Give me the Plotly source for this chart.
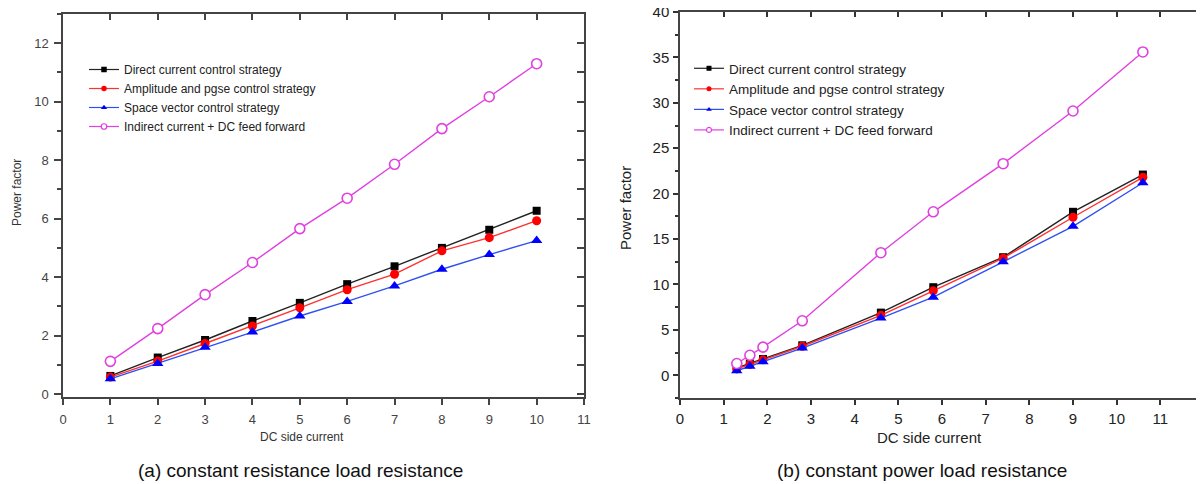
import plotly.graph_objects as go

# (a) constant resistance load
x_a = [1, 2, 3, 4, 5, 6, 7, 8, 9, 10]
a_direct = [0.62, 1.25, 1.85, 2.5, 3.12, 3.76, 4.37, 5.0, 5.62, 6.27]
a_amplitude = [0.58, 1.13, 1.73, 2.33, 2.95, 3.57, 4.1, 4.9, 5.35, 5.93]
a_space = [0.52, 1.05, 1.6, 2.12, 2.67, 3.17, 3.7, 4.27, 4.77, 5.25]
a_indirect = [1.12, 2.24, 3.4, 4.5, 5.66, 6.7, 7.86, 9.08, 10.17, 11.3]

# (b) constant power load
x_b = [1.3, 1.6, 1.9, 2.8, 4.6, 5.8, 7.4, 9.0, 10.6]
b_direct = [0.8, 1.3, 1.8, 3.3, 6.9, 9.7, 13.0, 18.0, 22.1]
b_amplitude = [0.7, 1.2, 1.7, 3.2, 6.6, 9.3, 12.9, 17.4, 21.8]
b_space = [0.5, 1.0, 1.5, 3.0, 6.3, 8.6, 12.5, 16.4, 21.2]
b_indirect = [1.3, 2.2, 3.1, 6.0, 13.5, 18.0, 23.3, 29.1, 35.6]

names = [
    "Direct current control strategy",
    "Amplitude and pgse control strategy",
    "Space vector control strategy",
    "Indirect current + DC feed forward",
]
line_colors = ["#222222", "#ff3030", "#3050f0", "#e040e0"]
marker_colors = ["#000000", "#ff0000", "#0000ff", "#ffffff"]
symbols = ["square", "circle", "triangle-up", "circle"]
sizes = [8, 9, 10, 10]

FONT = "Liberation Sans, Arial, sans-serif"
# the page body has an 8px margin, so the figure is 8px smaller and positions are shifted
OFF = 8
W, H = 1204 - OFF, 484 - OFF

fig = go.Figure()

panels = [
    ("x", "y", "legend", x_a, [a_direct, a_amplitude, a_space, a_indirect], 5.5),
    ("x2", "y2", "legend2", x_b, [b_direct, b_amplitude, b_space, b_indirect], 5),
]
for xa, ya, leg, xs, series, leg_size in panels:
    for i, ys in enumerate(series):
        mline = dict(width=1.6, color=line_colors[i]) if i == 3 else dict(width=0)
        fig.add_trace(
            go.Scatter(
                x=xs, y=ys, mode="lines+markers", xaxis=xa, yaxis=ya,
                line=dict(color=line_colors[i], width=1.4),
                marker=dict(symbol=symbols[i], size=sizes[i], color=marker_colors[i], line=mline),
                showlegend=False,
            )
        )
    # small-marker entries only for the legend
    for i in range(4):
        mline = dict(width=1.2, color=line_colors[i]) if i == 3 else dict(width=0)
        fig.add_trace(
            go.Scatter(
                x=[None], y=[None], mode="lines+markers", xaxis=xa, yaxis=ya,
                name=names[i], legend=leg,
                line=dict(color=line_colors[i], width=1.2),
                marker=dict(symbol=symbols[i], size=leg_size, color=marker_colors[i], line=mline),
            )
        )

# empty subplots sharing the panels' domains, only used for the inward top / right ticks
for xa, ya in [("x3", "y"), ("x", "y3"), ("x4", "y2"), ("x2", "y4")]:
    fig.add_trace(go.Scatter(x=[1], y=[1], xaxis=xa, yaxis=ya, mode="markers",
                             marker=dict(opacity=0), showlegend=False, hoverinfo="skip"))


def px_x(p):
    return (p - OFF) / W


def px_y(p):
    return (H - (p - OFF)) / H


axis_common = dict(showgrid=False, zeroline=False, showline=True, linecolor="#444444", linewidth=1.5,
                   automargin=False, tickwidth=1.5)
tick_only = dict(showgrid=False, zeroline=False, showline=False, automargin=False, showticklabels=False,
                 fixedrange=True, tickwidth=1.5)

dom_xa = [px_x(63), px_x(584)]
dom_ya = [px_y(397), px_y(14)]
dom_xb = [px_x(680), 1]
dom_yb = [px_y(398), px_y(12)]

fig.update_layout(
    width=W, height=H,
    margin=dict(l=0, r=0, t=0, b=0),
    paper_bgcolor="white", plot_bgcolor="rgba(0,0,0,0)",
    font=dict(family=FONT, color="#333333"),
    # left panel
    xaxis=dict(axis_common, domain=dom_xa, range=[0, 11], anchor="y", mirror=True,
               tickmode="linear", tick0=0, dtick=1, ticks="outside", ticklen=6, tickcolor="#444444",
               tickfont=dict(size=13, color="#444444"), ticklabelstandoff=4),
    yaxis=dict(axis_common, domain=dom_ya, range=[-0.1, 13], anchor="x", mirror=True,
               tickmode="linear", tick0=0, dtick=2, ticks="outside", ticklen=7, tickcolor="#444444",
               minor=dict(dtick=1, ticks="outside", ticklen=4, tickcolor="#444444"),
               tickfont=dict(size=13, color="#444444"), ticklabelstandoff=3, ticklabeloverflow="allow"),
    xaxis3=dict(tick_only, domain=dom_xa, side="top", anchor="y", range=[0, 11],
                tickmode="linear", tick0=0, dtick=1, ticks="inside", ticklen=6, tickcolor="#444444"),
    yaxis3=dict(tick_only, domain=dom_ya, side="right", anchor="x", range=[-0.1, 13],
                tickmode="linear", tick0=0, dtick=1, ticks="inside", ticklen=7, tickcolor="#444444"),
    # right panel
    xaxis2=dict(axis_common, domain=dom_xb, range=[0, 12], anchor="y2", mirror=True,
                tickmode="array", tickvals=list(range(12)), ticks="outside", ticklen=5, tickcolor="#333333",
                tickfont=dict(size=15, color="#222222"), ticklabelstandoff=1),
    yaxis2=dict(axis_common, domain=dom_yb, range=[-2.5, 40], anchor="x2", mirror=True,
                tickmode="linear", tick0=0, dtick=5, ticks="outside", ticklen=5, tickcolor="#333333",
                minor=dict(dtick=2.5, ticks="outside", ticklen=3, tickcolor="#333333"),
                tickfont=dict(size=15, color="#222222"), ticklabelstandoff=1, ticklabeloverflow="allow"),
    xaxis4=dict(tick_only, domain=dom_xb, side="top", anchor="y2", range=[0, 12],
                tickmode="linear", tick0=0, dtick=1, ticks="inside", ticklen=5, tickcolor="#333333"),
    yaxis4=dict(tick_only, domain=dom_yb, side="right", anchor="x2", range=[-2.5, 40],
                tickmode="linear", tick0=0, dtick=2.5, ticks="inside", ticklen=6, tickcolor="#333333"),
    legend=dict(x=px_x(84), y=px_y(55), xanchor="left", yanchor="top", bgcolor="rgba(0,0,0,0)",
                font=dict(size=12, color="#222222"), itemwidth=30),
    legend2=dict(x=px_x(689), y=px_y(53), xanchor="left", yanchor="top", bgcolor="rgba(0,0,0,0)",
                 font=dict(size=13.5, color="#222222"), itemwidth=30),
)

annotations = [
    dict(text="Power factor", x=px_x(17), y=px_y(193), textangle=-90, font=dict(size=12, color="#333333")),
    dict(text="DC side current", x=px_x(302), y=px_y(437), font=dict(size=12, color="#333333")),
    dict(text="Power factor", x=px_x(626), y=px_y(208), textangle=-90, font=dict(size=15, color="#222222")),
    dict(text="DC side current", x=px_x(929), y=px_y(437), font=dict(size=15, color="#222222")),
    dict(text="(a) constant resistance load resistance", x=px_x(300), y=px_y(470),
         font=dict(size=19, color="#111111")),
    dict(text="(b) constant power load resistance", x=px_x(922), y=px_y(470),
         font=dict(size=19, color="#111111")),
    dict(text="(a)", x=px_x(85), y=px_y(7), yanchor="bottom", font=dict(size=19, color="#111111")),
]
for a in annotations:
    a.update(xref="paper", yref="paper", showarrow=False)
    a.setdefault("xanchor", "center")
    a.setdefault("yanchor", "middle")
fig.update_layout(annotations=annotations)

fig.write_html("out.html")
